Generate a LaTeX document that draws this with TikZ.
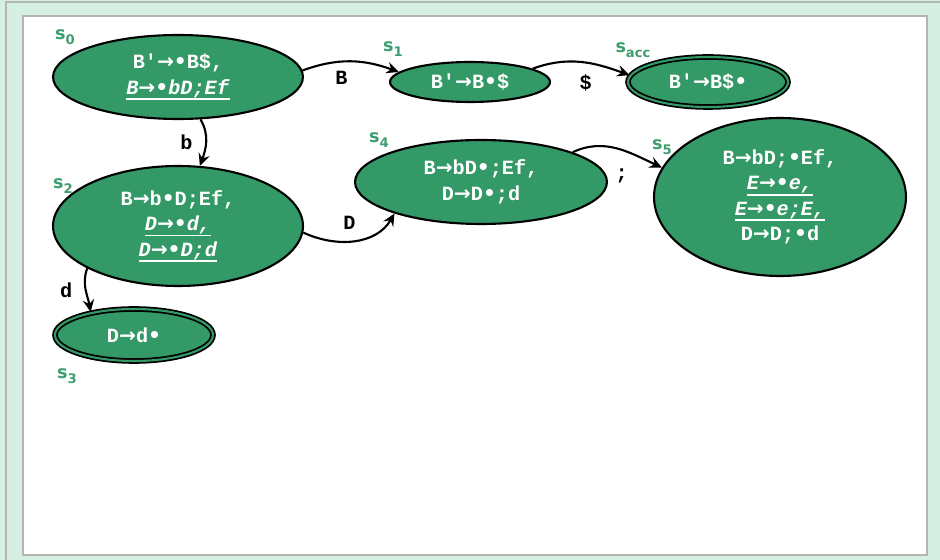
\documentclass[tikz,border=0pt]{standalone}
\usepackage{fontspec}
\setmonofont{Liberation Mono}
\setsansfont{DejaVu Sans}
\newfontfamily\symfont{DejaVu Sans}
\usepackage{tikz}
\usetikzlibrary{automata, positioning, arrows.meta, shapes.geometric}
\definecolor{itemgreen}{HTML}{339966}
\definecolor{namegreen}{HTML}{3D9E6E}
\definecolor{panelmint}{HTML}{D5F0E3}
\definecolor{panelgray}{HTML}{B4B4B4}
\newcommand{\subidx}[1]{\raisebox{-3pt}{\fontsize{7.5}{7.5}\selectfont #1}}
\newcommand{\arr}{{\symfont\upshape →}}
\newcommand{\itemdot}{{\symfont\upshape •}}
\newcommand{\itemul}[1]{\setbox0\hbox{\textit{#1}}\rlap{\rule[-3.2pt]{\wd0}{0.9pt}}\box0}
\tikzset{
>={Stealth[length=7pt, width=6.5pt, inset=2.5pt]}, % makes the arrow heads bold
every state/.style={ellipse, draw=black, line width=1.2pt, fill=itemgreen, text=white, inner sep=0pt,
  font=\ttfamily\bfseries\fontsize{11.5}{14.5}\selectfont, align=center}, % sets the look of each item set
accepting by double/.append style={line width=1pt, double=itemgreen, double distance=1.2pt}, % final item sets
setname/.style={text=namegreen, font=\sffamily\bfseries\fontsize{10}{10}\selectfont, inner sep=0pt}, % the s_i names
every edge/.style={draw, ->, line width=1.2pt}, % transitions
sym/.style={font=\ttfamily\bfseries\fontsize{11.5}{12}\selectfont, inner sep=1pt}, % transition symbols
}

\begin{document}
\begin{tikzpicture}[x=0.02cm, y=-0.02cm]
    \useasboundingbox (0,0) rectangle (940,560);
    % panel
    \fill[panelmint] (0,0) rectangle (940,560);
    \draw[panelgray, line width=1.4pt] (6,2) rectangle (950,570);
    \filldraw[fill=white, draw=panelgray, line width=1.4pt] (23,16) rectangle (927,555);

    % item sets
    \node[state, minimum width=5cm, minimum height=1.68cm] (s0) at (178,77)
        {B′\arr\itemdot B\$,\\\itemul{B\arr\itemdot bD;Ef}};
    \node[state, minimum width=3.2cm, minimum height=0.8cm] (s1) at (470,82) {B′\arr B\itemdot\$};
    \node[state, accepting, minimum width=3.2cm, minimum height=1cm] (sacc) at (708,82) {B′\arr B\$\itemdot};
    \node[state, minimum width=5cm, minimum height=2.4cm] (s2) at (178,226)
        {B\arr b\itemdot D;Ef,\\\itemul{D\arr\itemdot d,}\\\itemul{D\arr\itemdot D;d}};
    \node[state, accepting, minimum width=3.16cm, minimum height=1.04cm] (s3) at (134,335) {D\arr d\itemdot};
    \node[state, minimum width=5.04cm, minimum height=1.68cm] (s4) at (481,182)
        {B\arr bD\itemdot;Ef,\\D\arr D\itemdot;d};
    \node[state, minimum width=5.04cm, minimum height=3.16cm] (s5) at (780,197)
        {B\arr bD;\itemdot Ef,\\\itemul{E\arr\itemdot e,}\\\itemul{E\arr\itemdot e;E,}\\D\arr D;\itemdot d};

    % names
    \node[setname] (n0) at (65,37) {s\subidx{0}};
    \node[setname] (n1) at (393,49) {s\subidx{1}};
    \node[setname] (nacc) at (633,50) {s\subidx{acc}};
    \node[setname] (n2) at (63,186) {s\subidx{2}};
    \node[setname] (n3) at (67,376) {s\subidx{3}};
    \node[setname] (n4) at (379,140) {s\subidx{4}};
    \node[setname] (n5) at (662,147) {s\subidx{5}};

    \draw
    (s0.3) edge[out=20, in=160] node[sym, pos=0.4, below=4pt] {B} (s1.172)
    (s1.12) edge[out=20, in=160] node[sym, pos=0.55, below=5pt] {\$} (sacc.175)
    (s0.-62) edge[out=-60, in=70] node[sym, left=6pt] {b} (s2.70)
    (s2.-3) edge[out=-25, in=-120] node[sym, pos=0.45, above=5pt] {D} (s4.200)
    (s4.18) edge[out=25, in=155] node[sym, pos=0.55, below=9pt] {;} (s5.166)
    (s2.-155) edge[out=-110, in=100] node[sym, left=6pt] {d} (s3.152);
\end{tikzpicture}
\end{document}
